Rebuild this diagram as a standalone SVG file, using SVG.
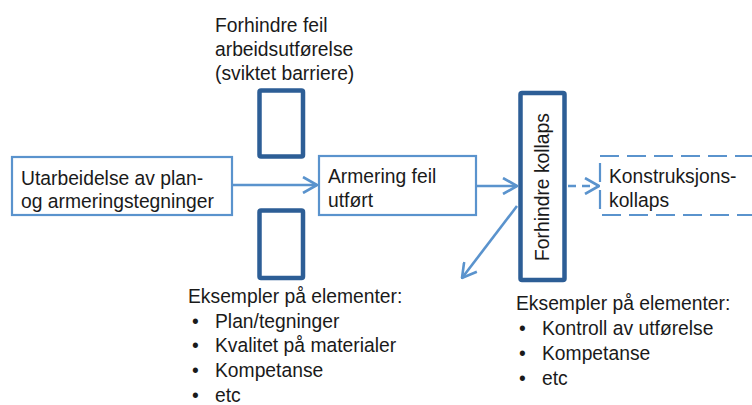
<svg xmlns="http://www.w3.org/2000/svg" width="752" height="405" viewBox="0 0 752 405">
<style>
text{font-family:"Liberation Sans",Arial,sans-serif;font-size:19.3px;fill:#1a1a1a}
.box{fill:#fff;stroke:#5a93cd;stroke-width:2.2}
.dbox{fill:#fff;stroke:#5a93cd;stroke-width:2.2;stroke-dasharray:19 8}
.bar{fill:#fff;stroke:#2d5e96;stroke-width:4.5;rx:1.5}
.con{fill:none;stroke:#5a93cd;stroke-width:2.6}
</style>
<defs>
<marker id="ah" viewBox="0 0 16 18" refX="15" refY="9" markerWidth="16" markerHeight="18" markerUnits="userSpaceOnUse" orient="auto">
<path d="M1,1 L15,9 L1,17" fill="none" stroke="#5a93cd" stroke-width="2.6" stroke-linejoin="miter"/>
</marker>
</defs>
<rect width="752" height="405" fill="#fff"/>
<g id="connectors">
<line class="con" x1="233" y1="185" x2="317" y2="185" marker-end="url(#ah)"/>
<line class="con" x1="476" y1="186" x2="517" y2="186" marker-end="url(#ah)"/>
<line class="con" x1="568" y1="186" x2="599" y2="186" stroke-dasharray="8 6" marker-end="url(#ah)"/>
<line class="con" x1="517" y1="206" x2="462" y2="278" marker-end="url(#ah)"/>
</g>
<g id="n-utarbeidelse">
<rect class="box" x="12" y="157" width="220" height="58"/>
<text x="21" y="185">Utarbeidelse av plan-</text>
<text x="21" y="208">og armeringstegninger</text>
</g>
<g id="n-barrier-label">
<text x="215" y="32">Forhindre feil</text>
<text x="215" y="56">arbeidsutførelse</text>
<text x="215" y="80">(sviktet barriere)</text>
</g>
<g id="n-barrier-top">
<rect class="bar" x="259.5" y="90.5" width="43.5" height="66"/>
</g>
<g id="n-barrier-bottom">
<rect class="bar" x="259.5" y="210.5" width="43.5" height="67.5"/>
</g>
<g id="n-armering">
<rect class="box" x="319" y="156" width="157" height="59"/>
<text x="328" y="183">Armering feil</text>
<text x="328" y="207">utført</text>
</g>
<g id="n-forhindre-kollaps">
<rect class="bar" x="520.5" y="93" width="44" height="187"/>
<text transform="translate(549,187) rotate(-90)" text-anchor="middle">Forhindre kollaps</text>
</g>
<g id="n-konstruksjon">
<rect class="dbox" x="600" y="156" width="170" height="59"/>
<text x="609" y="183">Konstruksjons-</text>
<text x="609" y="207">kollaps</text>
</g>
<g id="n-eksempler-left">
<text x="188" y="303">Eksempler på elementer:</text>
<text x="192" y="328">•</text><text x="215" y="328">Plan/tegninger</text>
<text x="192" y="352">•</text><text x="215" y="352">Kvalitet på materialer</text>
<text x="192" y="377">•</text><text x="215" y="377">Kompetanse</text>
<text x="192" y="402">•</text><text x="215" y="402">etc</text>
</g>
<g id="n-eksempler-right">
<text x="516" y="310">Eksempler på elementer:</text>
<text x="519" y="335">•</text><text x="542" y="335">Kontroll av utførelse</text>
<text x="519" y="360">•</text><text x="542" y="360">Kompetanse</text>
<text x="519" y="385">•</text><text x="542" y="385">etc</text>
</g>
</svg>
